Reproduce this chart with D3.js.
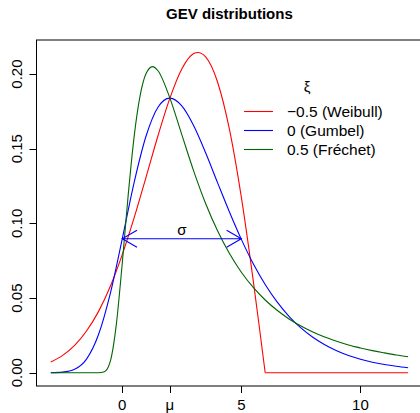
<!DOCTYPE html>
<html>
<head>
<meta charset="utf-8">
<script src="https://cdn.jsdelivr.net/npm/d3@7"></script>
<style>
  body { margin: 0; background: #fff; }
  text { font-family: "Liberation Sans", Arial, sans-serif; fill: #000; }
</style>
</head>
<body>
<div id="chart"></div>
<script>
// values (density curves, mu = 2, sigma = 2)
var weibullX = [-3, -2.5, -2, -1.5, -1, -0.5, 0, 0.5, 1, 1.5, 2, 2.5, 3, 3.17, 3.5, 4, 4.5, 5, 5.5, 5.75, 6];
var weibullY = [0.0071, 0.0116, 0.0183, 0.0279, 0.0409, 0.0579, 0.0791, 0.1038, 0.1310, 0.1587, 0.1839, 0.2034, 0.2137, 0.2144, 0.2115, 0.1947, 0.1629, 0.1174, 0.0615, 0.0311, 0];
var weibullTailX = [6, 12];
var weibullTailY = [0, 0];

var gumbelX = [-3, -2.5, -2, -1.5, -1, -0.5, 0, 0.5, 1, 1.5, 2, 2.5, 3, 3.5, 4, 4.5, 5, 5.5, 6, 6.5, 7, 7.5, 8, 8.5, 9, 9.5, 10, 10.5, 11, 11.5, 12];
var gumbelY = [0.0000, 0.0004, 0.0023, 0.0091, 0.0254, 0.0532, 0.0897, 0.1275, 0.1585, 0.1778, 0.1839, 0.1787, 0.1654, 0.1473, 0.1273, 0.1076, 0.0893, 0.0730, 0.0591, 0.0474, 0.0378, 0.0300, 0.0237, 0.0187, 0.0147, 0.0115, 0.0090, 0.0070, 0.0055, 0.0043, 0.0033];

var frechetX = [-3, -2, -1.5, -1, -0.75, -0.5, -0.25, 0, 0.25, 0.5, 0.75, 1, 1.27, 1.5, 2, 2.5, 3, 3.5, 4, 4.5, 5, 5.5, 6, 6.5, 7, 7.5, 8, 8.5, 9, 9.5, 10, 10.5, 11, 11.5, 12];
var frechetY = [0, 0, 0, 0.0000, 0.0006, 0.0077, 0.0322, 0.0733, 0.1191, 0.1583, 0.1855, 0.2003, 0.2050, 0.2022, 0.1839, 0.1594, 0.1350, 0.1133, 0.0950, 0.0798, 0.0673, 0.0571, 0.0487, 0.0418, 0.0360, 0.0313, 0.0273, 0.0239, 0.0211, 0.0186, 0.0166, 0.0148, 0.0133, 0.0119, 0.0107];

var legendLabels = ["\u22120.5 (Weibull)", "0 (Gumbel)", "0.5 (Fr\u00e9chet)"];
var seriesColors = ["#ff0000", "#0000ff", "#006400"];
var xTicks = [0, 2, 5, 10];
var xTickLabels = ["0", "\u03bc", "5", "10"];
var yTicks = [0, 0.05, 0.10, 0.15, 0.20];
var sigmaArrow = [0, 5, 0.0897];

var width = 420;
var height = 413;
var margin = {top: 40, left: 36.5, bottom: 27, right: -2.4};

var svg = d3.select("#chart").append("svg")
    .attr("width", width)
    .attr("height", height);

var x = d3.scaleLinear()
    .domain([-3.6, 12.6])
    .range([margin.left, width - margin.right]);

var y = d3.scaleLinear()
    .domain([-0.0089, 0.2228])
    .range([height - margin.bottom, margin.top]);

// box
svg.append("rect")
    .attr("x", margin.left)
    .attr("y", margin.top)
    .attr("width", width - margin.right - margin.left)
    .attr("height", height - margin.bottom - margin.top)
    .attr("fill", "none")
    .attr("stroke", "#000")
    .attr("stroke-width", 1);

// x axis ticks
var xAxis = svg.append("g");
xAxis.selectAll("line")
    .data(xTicks)
    .enter()
    .append("line")
    .attr("x1", function(d){ return Math.round(x(d)) + 0.5; })
    .attr("x2", function(d){ return Math.round(x(d)) + 0.5; })
    .attr("y1", y.range()[0])
    .attr("y2", y.range()[0] + 7)
    .attr("stroke", "#000");
xAxis.selectAll("text")
    .data(xTicks)
    .enter()
    .append("text")
    .attr("x", function(d){ return x(d); })
    .attr("y", 410)
    .attr("text-anchor", "middle")
    .attr("font-size", 15)
    .text(function(d, i){ return xTickLabels[i]; });

// y axis ticks
var yAxis = svg.append("g");
yAxis.selectAll("line")
    .data(yTicks)
    .enter()
    .append("line")
    .attr("x1", margin.left - 7)
    .attr("x2", margin.left)
    .attr("y1", function(d){ return Math.round(y(d)) + 0.5; })
    .attr("y2", function(d){ return Math.round(y(d)) + 0.5; })
    .attr("stroke", "#000");
yAxis.selectAll("text")
    .data(yTicks)
    .enter()
    .append("text")
    .attr("transform", function(d){ return "translate(22," + y(d) + ") rotate(-90)"; })
    .attr("text-anchor", "middle")
    .attr("font-size", 15)
    .text(function(d){ return d3.format(".2f")(d); });

// curves
var line = d3.line()
    .x(function(d){ return x(d[0]); })
    .y(function(d){ return y(d[1]); })
    .curve(d3.curveMonotoneX);

function pairs(xs, ys){
    return xs.map(function(v, i){ return [v, ys[i]]; });
}

var curves = [
    {pts: pairs(weibullX, weibullY), color: seriesColors[0]},
    {pts: pairs(weibullTailX, weibullTailY), color: seriesColors[0]},
    {pts: pairs(gumbelX, gumbelY), color: seriesColors[1]},
    {pts: pairs(frechetX, frechetY), color: seriesColors[2]}
];

svg.append("g").selectAll("path")
    .data(curves)
    .enter()
    .append("path")
    .attr("d", function(d){ return line(d.pts); })
    .attr("fill", "none")
    .attr("stroke", function(d){ return d.color; })
    .attr("stroke-width", 1.1);

// sigma arrow
var ax0 = x(sigmaArrow[0]), ax1 = x(sigmaArrow[1]), ay = y(sigmaArrow[2]);
var headLen = 17, headAng = Math.PI / 6;
var hx = headLen * Math.cos(headAng), hy = headLen * Math.sin(headAng);
svg.append("path")
    .attr("d", "M" + ax0 + "," + ay + "L" + ax1 + "," + ay +
        "M" + (ax0 + hx) + "," + (ay - hy) + "L" + ax0 + "," + ay + "L" + (ax0 + hx) + "," + (ay + hy) +
        "M" + (ax1 - hx) + "," + (ay - hy) + "L" + ax1 + "," + ay + "L" + (ax1 - hx) + "," + (ay + hy))
    .attr("fill", "none")
    .attr("stroke", seriesColors[1])
    .attr("stroke-width", 1.1);
svg.append("text")
    .attr("x", (ax0 + ax1) / 2)
    .attr("y", ay - 4)
    .attr("text-anchor", "middle")
    .attr("font-size", 15)
    .text("\u03c3");

// legend
var legend = svg.append("g");
legend.append("text")
    .attr("x", 307)
    .attr("y", 92)
    .attr("text-anchor", "middle")
    .attr("font-size", 15)
    .text("\u03be");
var rows = legend.selectAll("g.row")
    .data(legendLabels)
    .enter()
    .append("g")
    .attr("class", "row")
    .attr("transform", function(d, i){ return "translate(0," + (111.5 + i * 19) + ")"; });
rows.append("line")
    .attr("x1", 244)
    .attr("x2", 273)
    .attr("stroke", function(d, i){ return seriesColors[i]; })
    .attr("stroke-width", 1.1);
rows.append("text")
    .attr("x", 287)
    .attr("y", 5.5)
    .attr("font-size", 15.5)
    .text(function(d){ return d; });

// title
svg.append("text")
    .attr("x", (x.range()[0] + x.range()[1]) / 2)
    .attr("y", 19)
    .attr("text-anchor", "middle")
    .attr("font-size", 15)
    .attr("font-weight", "bold")
    .text("GEV distributions");
</script>
</body>
</html>
